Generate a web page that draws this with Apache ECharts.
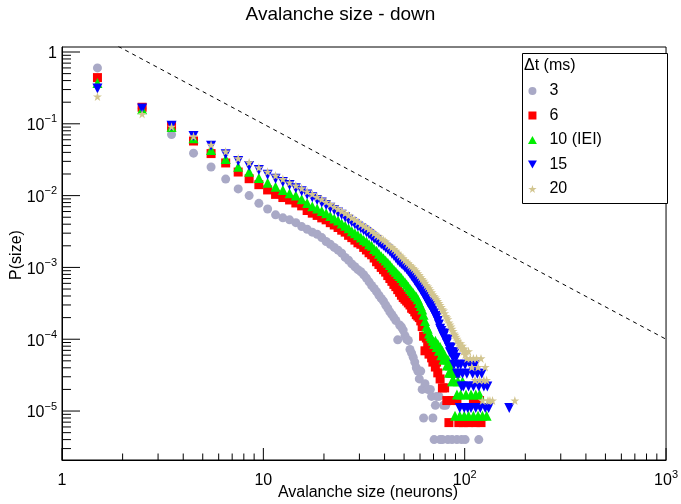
<!DOCTYPE html>
<html><head><meta charset="utf-8">
<script src="https://cdn.jsdelivr.net/npm/echarts@6/dist/echarts.min.js"></script>
<style>html,body{margin:0;padding:0;background:#fff}#c{width:681px;height:504px}</style>
</head><body><div id="c"></div><script>
// ---------- data ----------
const binCenters = [1.5,2.5,3.5,4.5,5.5,6.5,7.5,8.5,9.5,10.5,
  11.5,12.5,13.5,14.5,15.5,16.5,17.5,18.5,19.5,20.5,
  21.5,22.5,23.5,24.5,25.5,26.5,27.5,28.5,29.5,30.5,
  31.5,32.5,33.5,34.5,35.5,36.5,37.5,38.5,39.5,40.5,
  41.5,42.5,43.5,44.5,45.5,46.5,47.5,48.5,49.5,50.5,
  51.5,52.5,53.5,54.5,55.5,56.5,57.5,58.5,59.5,60.5];

const p3 = [0.60,0.165,0.071,0.039,0.025,0.017,0.0124,0.0100,0.0078,0.0065,
  0.0054,0.0049,0.0046,0.0042,0.0037,0.0034,0.0031,0.0029,0.0026,0.0023,
  0.0021,0.0019,0.00174,0.00158,0.00138,0.00126,0.00112,0.00102,0.00093,0.00087,
  0.00079,0.00071,0.00063,0.00056,0.00051,0.00046,0.00041,0.00037,0.00034,0.00030,
  0.00027,0.00024,0.00022,0.00020,0.000182,0.000098,0.000158,0.000148,0.000134,0.000112,
  0.000100,0.000096,0.000072,0.000064,0.000056,0.000048,0.000040,0.000036,0.000028,0.000036];
const tail3 = [[61.5,2.0e-5],[62.5,8e-6],[63.5,2.4e-5],[65.5,2.0e-5],[67.5,2.0e-5],[68.5,1.6e-5],
  [69.5,8e-6],[70.5,4e-6],[71.5,1.2e-5],[72.5,1.6e-5],[74.5,1.6e-5],[75.5,4e-6],[77.5,4e-6],
  [78.5,1.2e-5],[80.5,1.2e-5],[82.5,4e-6],[86.5,4e-6],[91.5,4e-6],[96.5,4e-6],[100.5,4e-6],[117.5,4e-6]];

const p6 = [0.44,0.170,0.092,0.0576,0.0385,0.0285,0.0213,0.0172,0.0142,0.0120,
  0.0104,0.0094,0.0087,0.0079,0.0072,0.0062,0.0057,0.0053,0.0049,0.0046,
  0.0042,0.0039,0.0036,0.0033,0.0031,0.0028,0.0026,0.0024,0.0022,0.0021,
  0.0019,0.00175,0.0016,0.0015,0.00135,0.0012,0.0011,0.00100,0.00093,0.00086,
  0.00077,0.00070,0.00064,0.00058,0.00054,0.00049,0.00045,0.00041,0.00038,0.00036,
  0.00034,0.00032,0.00030,0.00027,0.00026,0.00024,0.00022,0.00021,0.00020,0.00018];
const tail6 = [[61.5,1.5e-4],[62.5,1.1e-4],[63.5,6.9e-5],[64.5,1.04e-4],[65.5,9.0e-5],[66.5,6.2e-5],
  [67.5,7.6e-5],[68.5,5.5e-5],[69.5,4.8e-5],[70.5,6.2e-5],[71.5,4.1e-5],[72.5,4.8e-5],[73.5,3.4e-5],
  [75.5,2.8e-5],[77.5,2.1e-5],[79.5,2.1e-5],[81.5,1.4e-5],[83.5,6.9e-6],[86.5,1.4e-5],[91.5,1.4e-5],
  [93.5,6.9e-6],[98.5,6.9e-6],[104.5,6.9e-6],[110.5,1.4e-5],[113.5,6.9e-6],[118.5,1.4e-5],[120.5,6.9e-6]];

const p10 = [0.37,0.160,0.090,0.0628,0.0432,0.0324,0.0253,0.0215,0.0176,0.0151,
  0.0133,0.0120,0.0108,0.0100,0.0089,0.0079,0.0071,0.0066,0.0061,0.0057,
  0.0052,0.0048,0.0045,0.0041,0.0038,0.0035,0.0032,0.0030,0.0028,0.0026,
  0.0024,0.0023,0.0021,0.0020,0.0018,0.0017,0.00155,0.00143,0.00134,0.00125,
  0.00116,0.00108,0.00100,0.00093,0.00087,0.00081,0.00076,0.00071,0.00066,0.00062,
  0.00058,0.00054,0.00050,0.00047,0.00044,0.00041,0.00039,0.00036,0.00032,0.00029];
const tail10 = [[61.5,2.6e-4],[62.5,2.2e-4],[63.5,1.8e-4],[64.5,1.5e-4],[65.5,1.4e-4],[66.5,1.2e-4],
  [67.5,1.1e-4],[68.5,1.03e-4],[69.5,9.5e-5],[70.5,8.6e-5],[71.5,9.5e-5],[72.5,7.8e-5],[73.5,8.6e-5],
  [74.5,6.9e-5],[75.5,7.8e-5],[76.5,6.0e-5],[77.5,6.9e-5],[78.5,5.2e-5],[79.5,6.0e-5],[80.5,5.2e-5],
  [81.5,4.3e-5],[82.5,5.2e-5],[83.5,3.4e-5],[84.5,4.3e-5],[85.5,3.4e-5],[86.5,2.6e-5],[87.5,3.4e-5],
  [88.5,2.6e-5],[89.5,8.6e-6],[90.5,3.4e-5],[91.5,1.7e-5],[92.5,2.6e-5],[94.5,8.6e-6],[95.5,1.7e-5],
  [97.5,2.6e-5],[99.5,8.6e-6],[101.5,1.7e-5],[104.5,8.6e-6],[107.5,1.7e-5],[110.5,8.6e-6],
  [113.5,1.7e-5],[116.5,8.6e-6],[118.5,1.7e-5],[122.5,8.6e-6],[128.5,8.6e-6]];

const p15 = [0.31,0.164,0.094,0.0676,0.0496,0.0376,0.0303,0.0258,0.0227,0.0195,
  0.0172,0.0155,0.0140,0.0127,0.0115,0.0104,0.0095,0.0087,0.0080,0.0074,
  0.0068,0.0063,0.0058,0.0054,0.0050,0.0046,0.0043,0.0040,0.0037,0.0035,
  0.0033,0.0031,0.0029,0.0027,0.0025,0.0024,0.0022,0.0021,0.0020,0.00188,
  0.00178,0.00166,0.00155,0.00145,0.00135,0.00125,0.00118,0.00112,0.00106,0.00100,
  0.00094,0.00088,0.00082,0.00076,0.00071,0.00066,0.00061,0.00057,0.00053,0.00049];
const tail15 = [[61.5,4.6e-4],[62.5,4.2e-4],[63.5,3.9e-4],[64.5,3.6e-4],[65.5,3.3e-4],[66.5,3.1e-4],
  [67.5,2.9e-4],[68.5,2.7e-4],[69.5,2.5e-4],[70.5,2.3e-4],[71.5,2.1e-4],[72.5,2.0e-4],[73.5,1.8e-4],
  [74.5,1.6e-4],[75.5,1.4e-4],[76.5,1.3e-4],[77.5,1.2e-4],[78.5,1.1e-4],[79.5,1.2e-4],[80.5,9.9e-5],
  [81.5,8.8e-5],[82.5,9.9e-5],[83.5,7.7e-5],[84.5,6.6e-5],[85.5,7.7e-5],[86.5,6.6e-5],[87.5,5.5e-5],
  [88.5,4.4e-5],[89.5,6.6e-5],[90.5,5.5e-5],[91.5,3.3e-5],[92.5,4.4e-5],[93.5,3.3e-5],[94.5,1.1e-5],
  [95.5,4.4e-5],[96.5,2.2e-5],[97.5,3.3e-5],[98.5,2.2e-5],[99.5,1.1e-5],[100.5,4.4e-5],[102.5,3.3e-5],
  [103.5,1.1e-5],[104.5,2.2e-5],[106.5,4.4e-5],[107.5,1.1e-5],[109.5,3.3e-5],[110.5,2.2e-5],
  [112.5,4.4e-5],[113.5,1.1e-5],[115.5,3.3e-5],[117.5,2.2e-5],[119.5,1.1e-5],[121.5,3.3e-5],
  [124.5,2.2e-5],[126.5,1.1e-5],[129.5,2.2e-5],[131.5,1.1e-5],[166.5,1.1e-5]];

const p20 = [0.24,0.137,0.091,0.067,0.051,0.041,0.033,0.029,0.0245,0.0215,
  0.0190,0.0170,0.0152,0.0138,0.0126,0.0114,0.0105,0.0096,0.0089,0.0082,
  0.0076,0.0070,0.0065,0.0061,0.0057,0.0053,0.0049,0.0046,0.0043,0.0040,
  0.0038,0.0036,0.0034,0.0032,0.0030,0.0028,0.0027,0.0025,0.0024,0.0023,
  0.0021,0.0020,0.0019,0.0018,0.0017,0.0016,0.00150,0.00142,0.00134,0.00126,
  0.00120,0.00114,0.00108,0.00103,0.00098,0.00093,0.00088,0.00083,0.00078,0.00073];
const tail20 = [[61.5,6.9e-4],[62.5,6.5e-4],[63.5,6.1e-4],[64.5,5.7e-4],[65.5,5.4e-4],[66.5,5.1e-4],
  [67.5,4.8e-4],[68.5,4.5e-4],[69.5,4.2e-4],[70.5,4.0e-4],[71.5,3.8e-4],[72.5,3.6e-4],[73.5,3.4e-4],
  [74.5,3.2e-4],[75.5,3.0e-4],[76.5,2.8e-4],[77.5,2.6e-4],[78.5,2.5e-4],[79.5,2.3e-4],[80.5,2.1e-4],
  [81.5,2.0e-4],[82.5,1.9e-4],[83.5,1.7e-4],[84.5,1.6e-4],[85.5,1.5e-4],[86.5,1.4e-4],[87.5,1.3e-4],
  [88.5,1.2e-4],[89.5,1.15e-4],[90.5,1.08e-4],[91.5,1.01e-4],[92.5,9.5e-5],[93.5,8.8e-5],[94.5,8.1e-5],
  [95.5,8.8e-5],[96.5,7.4e-5],[97.5,8.1e-5],[98.5,6.8e-5],[99.5,7.4e-5],[100.5,6.1e-5],[101.5,6.8e-5],
  [102.5,5.4e-5],[104.5,6.8e-5],[106.5,5.4e-5],[108.5,4.1e-5],[110.5,5.4e-5],[112.5,2.7e-5],
  [114.5,5.4e-5],[116.5,4.1e-5],[118.5,2.7e-5],[120.5,5.4e-5],[122.5,1.4e-5],[124.5,2.7e-5],
  [126.5,4.1e-5],[128.5,2.7e-5],[130.5,1.4e-5],[133.5,1.4e-5],[137.5,1.4e-5],[177.5,1.4e-5]];

const seriesNames = ['3','6','10 (IEI)','15','20'];
const powerLaw = [[1.9,1.2],[1000,1.0e-4]];   // dashed reference line end points
const xTickLabels = ['1','10','10{s|2}','10{s|3}'];              // exponents 0..3
const yTickLabels = ['10{s|\u22125}','10{s|\u22124}','10{s|\u22123}','10{s|\u22122}','10{s|\u22121}','1']; // -5..0

// ---------- layout / style ----------
const FONT = "'Liberation Sans', Arial, Helvetica, sans-serif";
const X_MIN = 1, X_MAX = 1000, Y_MIN = 2.08e-6, Y_MAX = 1.174;

function combine(dense, tail){ return dense.map((v,i)=>[binCenters[i], v]).concat(tail); }

function expOf(v){ const e = Math.log10(v); const r = Math.round(e); return Math.abs(e-r) < 1e-6 ? r : null; }
function fmtX(v){ const e = expOf(v); if (e===null || e<0 || e>3) return ''; return xTickLabels[e].replace(/^1(0?)/, '{b|1$1}'); }
function fmtY(v){ const e = expOf(v); if (e===null || e<-5 || e>0) return ''; return yTickLabels[e+5].replace(/^1(0?)/, '{b|1$1}'); }
const richLab = {
  b: {fontSize: 16, lineHeight: 20, verticalAlign: 'bottom', fontFamily: FONT, color: '#000'},
  s: {fontSize: 11, lineHeight: 11, verticalAlign: 'top', fontFamily: FONT, color: '#000'}
};

// tick marks (axis decoration, positions follow the axis rule)
const tickData = [];
for (let d = 0; d < 3; d++) for (let m = 1; m <= 9; m++) {
  const v = m * Math.pow(10, d);
  tickData.push([v, Y_MIN, m === 1 ? 0 : 1]);
}
tickData.push([1000, Y_MIN, 0]);
for (let d = -6; d <= 0; d++) for (let m = 1; m <= 9; m++) {
  const v = m * Math.pow(10, d);
  if (v < Y_MIN || v > Y_MAX) continue;
  tickData.push([X_MIN, v, m === 1 ? 2 : 3]);
}

function renderTick(params, api){
  const kind = api.value(2);
  const p = api.coord([api.value(0), api.value(1)]);
  let shape;
  if (kind === 0) shape = {x1:p[0], y1:p[1], x2:p[0], y2:p[1]-12};
  else if (kind === 1) shape = {x1:p[0], y1:p[1], x2:p[0], y2:p[1]-6.5};
  else if (kind === 2) shape = {x1:p[0], y1:p[1], x2:p[0]+18, y2:p[1]};
  else shape = {x1:p[0], y1:p[1], x2:p[0]+9, y2:p[1]};
  return {type:'line', shape: shape, style:{stroke:'#000', lineWidth:1}};
}

const starPath = 'path://M50,0 L61.2,34.5 L97.6,34.5 L68.2,55.9 L79.4,90.5 L50,69.1 L20.6,90.5 L31.8,55.9 L2.4,34.5 L38.8,34.5 Z';
const downTri = 'path://M0,0 L10,0 L5,9 Z';
const upTri = 'path://M5,0 L10,9 L0,9 Z';
const square = 'path://M0,0 L10,0 L10,10 L0,10 Z';
const colors = ['#a9a9c6', '#ff0000', '#00ee00', '#0000ff', '#d2c58f'];
const symbols = ['circle', square, upTri, downTri, starPath];
const sizes = [9, 9, 10, 10, 9];
const datasets = [combine(p3, tail3), combine(p6, tail6), combine(p10, tail10), combine(p15, tail15), combine(p20, tail20)];

const scatterSeries = seriesNames.map((n, i) => ({
  name: n, type: 'scatter', data: datasets[i], symbol: symbols[i], symbolSize: sizes[i],
  itemStyle: {color: colors[i], opacity: 1}, z: 3 + i, silent: true, animation: false
}));

const chart = echarts.init(document.getElementById('c'), null, {renderer: 'canvas'});
chart.setOption({
  animation: false,
  backgroundColor: '#fff',
  grid: {left: 62, top: 47, right: 8, bottom: 44, containLabel: false, show: true,
         borderColor: '#000', borderWidth: 1, backgroundColor: 'transparent'},
  xAxis: {type: 'log', logBase: 10, min: X_MIN, max: X_MAX,
    axisLine: {show: true, onZero: false, lineStyle: {color: '#000', width: 1}},
    axisTick: {show: false}, minorTick: {show: false}, splitLine: {show: false},
    axisLabel: {show: true, formatter: fmtX, rich: richLab, margin: 9, color: '#000',
      fontSize: 16, fontFamily: FONT, showMinLabel: true, showMaxLabel: true, hideOverlap: false}},
  yAxis: {type: 'log', logBase: 10, min: Y_MIN, max: Y_MAX,
    axisLine: {show: true, onZero: false, lineStyle: {color: '#000', width: 1}},
    axisTick: {show: false}, minorTick: {show: false}, splitLine: {show: false},
    axisLabel: {show: true, formatter: fmtY, rich: richLab, margin: 5, color: '#000',
      fontSize: 16, fontFamily: FONT, showMinLabel: true, showMaxLabel: true, hideOverlap: false}},
  legend: {data: seriesNames, orient: 'vertical', left: 528, top: 83, padding: 0,
    itemGap: 8.5, itemWidth: 24, itemHeight: 8, selectedMode: false, z: 20,
    textStyle: {fontSize: 16, lineHeight: 16, fontFamily: FONT, color: '#000'}},
  graphic: [
    {type: 'text', left: 'center', top: 5, z: 10,
      style: {text: 'Avalanche size - down', fontSize: 19, fontFamily: FONT, fill: '#000'}},
    {type: 'text', x: 368, y: 493, z: 10,
      style: {text: 'Avalanche size (neurons)', fontSize: 16, fontFamily: FONT, fill: '#000',
        textAlign: 'center', textVerticalAlign: 'middle'}},
    {type: 'text', x: 17, y: 255, rotation: Math.PI / 2, z: 10,
      style: {text: 'P(size)', fontSize: 16, fontFamily: FONT, fill: '#000',
        textAlign: 'center', textVerticalAlign: 'middle'}},
    {type: 'rect', shape: {x: 522.5, y: 53.5, width: 145, height: 150}, z: 15,
      style: {fill: '#fff', stroke: '#000', lineWidth: 1}},
    {type: 'text', x: 524, y: 66, z: 16,
      style: {text: '\u0394t (ms)', fontSize: 16, fontFamily: FONT, fill: '#000',
        textAlign: 'left', textVerticalAlign: 'middle'}}
  ],
  series: [
    {type: 'custom', renderItem: renderTick, data: tickData, encode: {x: 0, y: 1},
      clip: false, silent: true, z: 10, animation: false},
    {type: 'line', data: powerLaw, symbol: 'none', silent: true, z: 2, clip: true,
      lineStyle: {color: '#000', width: 1, type: [4, 4]}, animation: false}
  ].concat(scatterSeries)
});
</script></body></html>
